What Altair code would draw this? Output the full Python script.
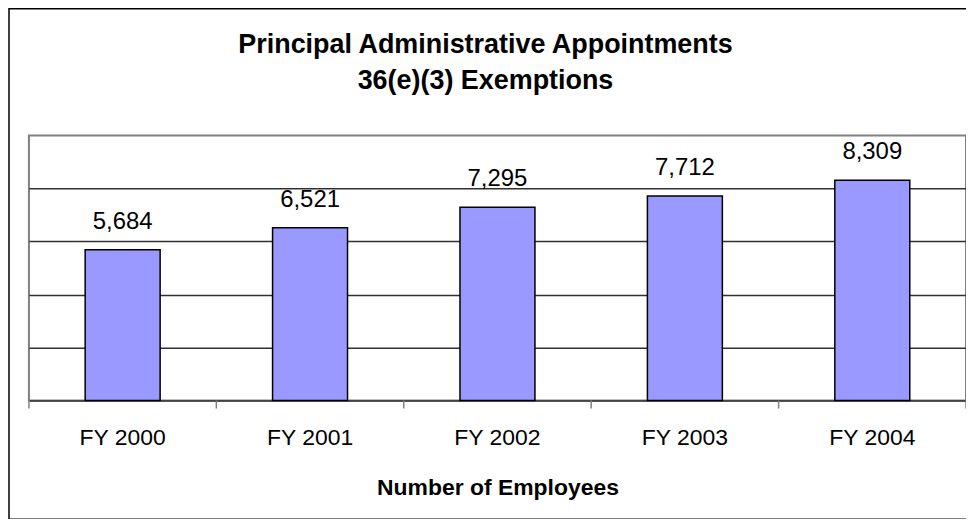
import altair as alt
import pandas as pd

categories = ["FY 2000", "FY 2001", "FY 2002", "FY 2003", "FY 2004"]
values = [5684, 6521, 7295, 7712, 8309]
title_line1 = "Principal Administrative Appointments"
title_line2 = "36(e)(3) Exemptions"
x_title = "Number of Employees"

df = pd.DataFrame({"year": categories, "count": values})
FONT = "Liberation Sans"

x_enc = alt.X(
    "year:N",
    sort=categories,
    title=x_title,
    scale=alt.Scale(paddingInner=0.6, paddingOuter=0.3),
    axis=alt.Axis(
        labelAngle=0,
        labelFontSize=23,
        labelColor="black",
        labelPadding=26,
        labelFont=FONT,
        ticks=False,
        domainColor="#303030",
        domainWidth=1.5,
        titleFontSize=23,
        titleFont=FONT,
        titleFontWeight="bold",
        titleColor="black",
        titlePadding=27,
    ),
)
y_enc = alt.Y(
    "count:Q",
    scale=alt.Scale(domain=[0, 10000], nice=False),
    axis=alt.Axis(
        values=[2000, 4000, 6000, 8000],
        labels=False,
        ticks=False,
        domain=False,
        grid=True,
        gridColor="#303030",
        gridWidth=1.5,
        title=None,
    ),
)

base = alt.Chart(df)
bars = base.mark_bar(color="#9999FF", stroke="black", strokeWidth=1.5).encode(x=x_enc, y=y_enc)
labels = base.mark_text(
    baseline="alphabetic", dy=-21, fontSize=24, font=FONT, color="black"
).encode(x=alt.X("year:N", sort=categories), y="count:Q", text=alt.Text("count:Q", format=","))

# category-boundary tick marks below the x axis
cat_ticks = base.mark_rule(color="#808080", strokeWidth=1.5, xOffset=-94).encode(
    x=alt.X("year:N", sort=categories), y=alt.value(266), y2=alt.value(274)
)
one = alt.Data(values=[{}])
end_tick = alt.Chart(one).mark_rule(color="#808080", strokeWidth=1.5).encode(
    x=alt.value(940), y=alt.value(266), y2=alt.value(274)
)

title1 = alt.Chart(one).mark_text(
    text=title_line1, fontSize=27, font=FONT, fontWeight="bold", color="black",
    align="center", baseline="alphabetic"
).encode(x=alt.value(458), y=alt.value(-83))
title2 = alt.Chart(one).mark_text(
    text=title_line2, fontSize=27, font=FONT, fontWeight="bold", color="black",
    align="center", baseline="alphabetic"
).encode(x=alt.value(458), y=alt.value(-47))

frame = alt.Chart(one).mark_rect(
    filled=False, stroke="black", strokeWidth=1.5
).encode(x=alt.value(-20), x2=alt.value(941), y=alt.value(-127), y2=alt.value(385))

chart = (
    alt.layer(bars, labels, cat_ticks, end_tick, title1, title2, frame)
    .properties(
        width=940,
        height=266,
        autosize=alt.AutoSizeParams(type="none"),
        padding={"left": 21, "top": 127, "right": 0, "bottom": 118},
    )
    .configure(background="white", view=alt.ViewConfig(stroke="#808080", strokeWidth=2))
)

chart.save("out.html", embed_options={"renderer": "svg", "actions": False})
